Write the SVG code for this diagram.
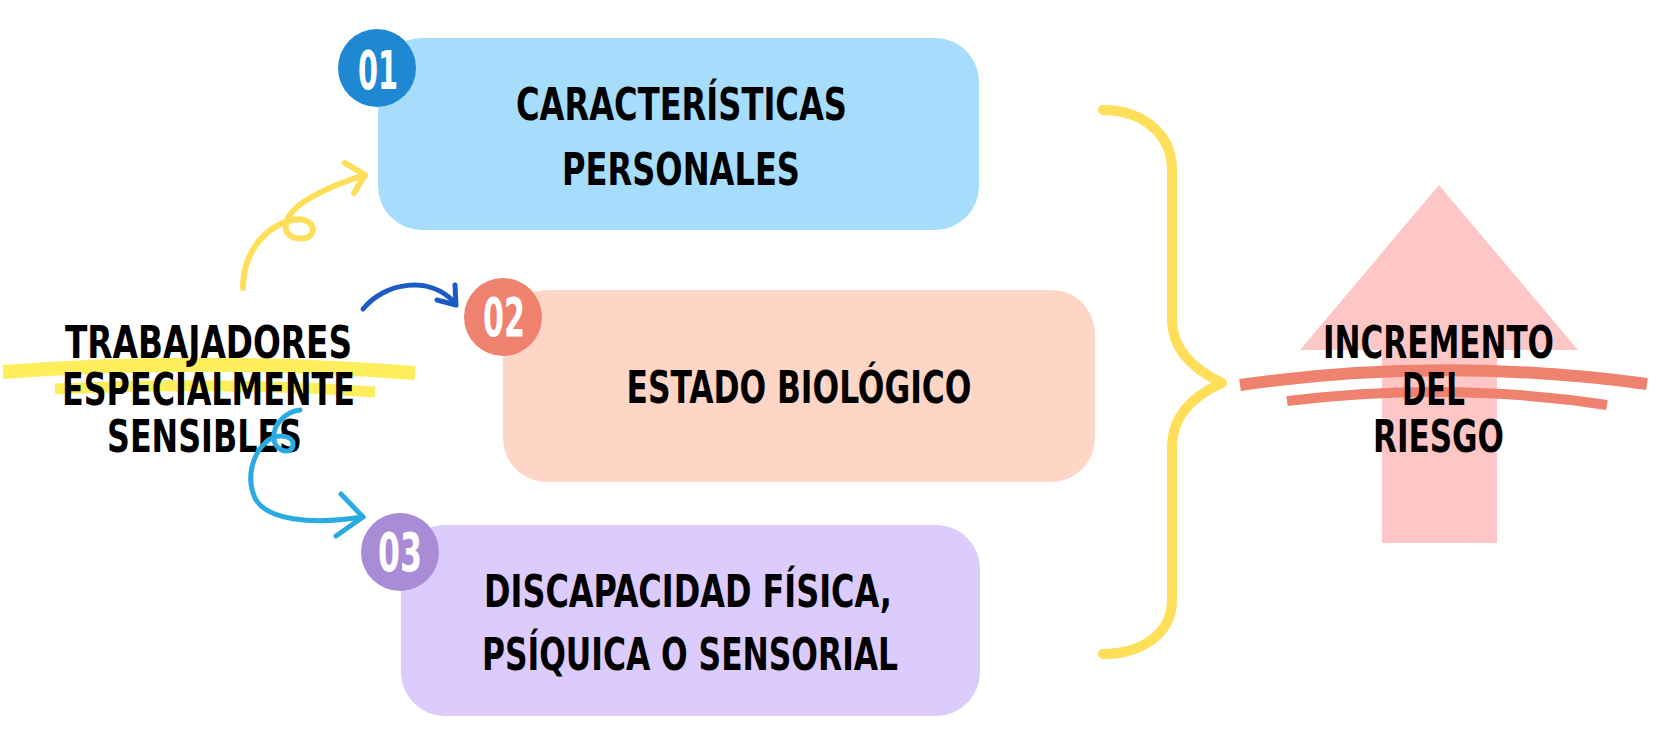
<svg xmlns="http://www.w3.org/2000/svg" width="1668" height="754" viewBox="0 0 1668 754">
  <style>
    .t { font-family: "Liberation Sans Narrow", "DejaVu Sans Condensed", "Liberation Sans", sans-serif; font-weight: bold; fill: #000; text-anchor: middle; font-size: 44px; }
    .num { font-family: "Liberation Sans Narrow", "DejaVu Sans Condensed", "Liberation Sans", sans-serif; font-weight: bold; fill: #fff; text-anchor: middle; font-size: 54px; }
    .line { fill: none; stroke-linecap: round; stroke-linejoin: round; }
  </style>
  <rect width="1668" height="754" fill="#ffffff"/>

  <!-- highlight under left label -->
  <g id="highlight">
    <path d="M3,372 Q200,357 415,373" fill="none" stroke="#FFEE5C" stroke-width="14"/>
    <path d="M55,389 Q220,381 375,392" fill="none" stroke="#FFEE5C" stroke-width="11"/>
  </g>

  <g id="node-left">
    <text class="t" x="208.5" y="358" textLength="287" lengthAdjust="spacingAndGlyphs">TRABAJADORES</text>
    <text class="t" x="208.5" y="405" textLength="293" lengthAdjust="spacingAndGlyphs">ESPECIALMENTE</text>
    <text class="t" x="204.5" y="452" textLength="195" lengthAdjust="spacingAndGlyphs">SENSIBLES</text>
  </g>

  <g id="node-01">
    <rect x="378" y="38" width="601" height="192" rx="44" fill="#A6DDFC"/>
    <circle cx="377" cy="68" r="39" fill="#1E88D2"/>
    <text class="num" x="378" y="89" textLength="40" lengthAdjust="spacingAndGlyphs">01</text>
    <text class="t" x="681.5" y="120" textLength="331" lengthAdjust="spacingAndGlyphs">CARACTERÍSTICAS</text>
    <text class="t" x="681" y="185" textLength="238" lengthAdjust="spacingAndGlyphs">PERSONALES</text>
  </g>

  <g id="node-02">
    <rect x="503" y="290" width="592" height="192" rx="44" fill="#FFD5C5"/>
    <circle cx="503" cy="317" r="39" fill="#EF826F"/>
    <text class="num" x="504" y="336" textLength="42" lengthAdjust="spacingAndGlyphs">02</text>
    <text class="t" x="799" y="403" textLength="345" lengthAdjust="spacingAndGlyphs">ESTADO BIOLÓGICO</text>
  </g>

  <g id="node-03">
    <rect x="401" y="525" width="579" height="191" rx="44" fill="#DCCBFD"/>
    <circle cx="400" cy="552" r="39" fill="#A98BD6"/>
    <text class="num" x="400" y="571" textLength="44" lengthAdjust="spacingAndGlyphs">03</text>
    <text class="t" x="688" y="607" textLength="408" lengthAdjust="spacingAndGlyphs">DISCAPACIDAD FÍSICA,</text>
    <text class="t" x="690" y="670" textLength="416" lengthAdjust="spacingAndGlyphs">PSÍQUICA O SENSORIAL</text>
  </g>

  <g id="node-riesgo">
    <polygon points="1439,185 1578,350 1497,350 1497,543 1382,543 1382,350 1300,350" fill="#FFC6C6"/>
    <path d="M1240,385 Q1440,356 1647,384" fill="none" stroke="#EF826F" stroke-width="12"/>
    <path d="M1287,401 Q1450,381 1607,405" fill="none" stroke="#EF826F" stroke-width="10"/>
    <text class="t" x="1438.5" y="358" textLength="231" lengthAdjust="spacingAndGlyphs">INCREMENTO</text>
    <text class="t" x="1433.5" y="405" textLength="63" lengthAdjust="spacingAndGlyphs">DEL</text>
    <text class="t" x="1438.5" y="452" textLength="131" lengthAdjust="spacingAndGlyphs">RIESGO</text>
  </g>

  <g id="connectors">
    <!-- brace -->
    <path class="line" d="M1103,110 C1140,110 1172,132 1172,170 L1172,320 C1172,350 1195,370 1222,383 C1195,395 1172,415 1172,447 L1172,600 C1172,635 1140,654 1103,654" stroke="#FFDE59" stroke-width="10"/>
    <!-- yellow arrow to 01 -->
    <path class="line" d="M243,288 C243,255 262,228 292,220 C305,217 316,224 312,233 C308,241 292,240 287,232 C282,222 292,208 310,198 C325,189 345,181 365,175" stroke="#FFDE59" stroke-width="6"/>
    <path class="line" d="M345,163 L365,175 L354,193" stroke="#FFDE59" stroke-width="6"/>
    <!-- dark blue arrow to 02 -->
    <path class="line" d="M363,309 C385,282 430,275 455,303" stroke="#1A5BC4" stroke-width="5"/>
    <path class="line" d="M455,285 L456,305 L437,300" stroke="#1A5BC4" stroke-width="5"/>
    <!-- cyan arrow to 03 -->
    <path class="line" d="M300,410 C285,412 272,425 274,440 C276,452 292,455 293,445 C294,436 278,432 266,442 C252,455 246,478 255,498 C266,520 310,525 363,517" stroke="#29ABE2" stroke-width="5"/>
    <path class="line" d="M341,494 L363,517 L336,536" stroke="#29ABE2" stroke-width="5"/>
  </g>
</svg>
